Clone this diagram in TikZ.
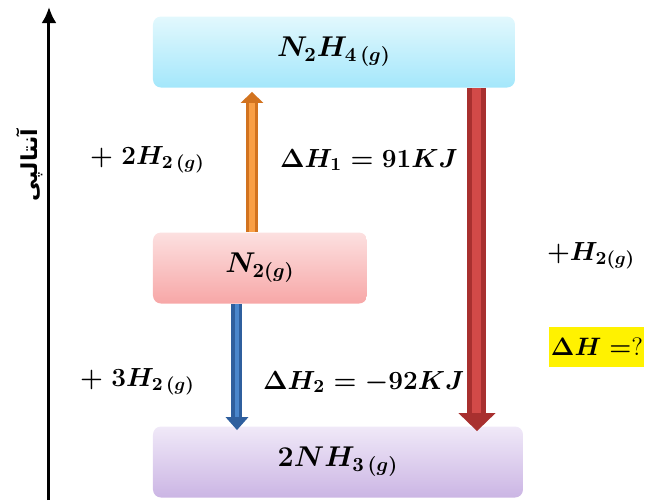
\RequirePackage{fix-cm}
\documentclass[tikz,border=0pt]{standalone}
\usepackage{amsmath}
\usepackage{fontspec}
\newfontfamily\fafont[Script=Arabic]{DejaVu Sans}
\TeXXeTstate=1
\usetikzlibrary{arrows.meta,positioning}
\definecolor{cyTop}{HTML}{E2F8FD}
\definecolor{cyBot}{HTML}{A4E7FB}
\definecolor{pkTop}{HTML}{FCE0E0}
\definecolor{pkBot}{HTML}{F7A7A7}
\definecolor{lvTop}{HTML}{F0E9F8}
\definecolor{lvBot}{HTML}{CBB5E4}
\definecolor{orD}{HTML}{D2731F}
\definecolor{orL}{HTML}{F99F45}
\definecolor{rdD}{HTML}{A8302F}
\definecolor{rdL}{HTML}{D24A48}
\definecolor{blD}{HTML}{2F5F9E}
\definecolor{blL}{HTML}{4A86CC}
\tikzset{
  mth/.style={font=\fontsize{13.1}{16}\selectfont\boldmath},
  lvl/.style={font=\fontsize{14.3}{17}\selectfont\boldmath,rounded corners=4pt,inner sep=0pt,minimum height=35.5pt},
  lvtop/.style={lvl,top color=cyTop,bottom color=cyBot,minimum width=181pt},
  lvmid/.style={lvl,top color=pkTop,bottom color=pkBot,minimum width=107pt},
  lvbot/.style={lvl,top color=lvTop,bottom color=lvBot,minimum width=185pt},
  axs/.style={line width=1.5pt,-{Latex[length=8pt,width=7.5pt]}},
  % each reaction arrow: a dark shaft with a lighter stripe down its middle
  arO/.style={draw=orD,line width=6pt,-{Triangle[length=5.5pt,width=11pt]},shorten >=2pt,
    postaction={draw=orL,line width=2.6pt,-,shorten >=7.5pt}},
  arB/.style={draw=blD,line width=5.5pt,-{Triangle[length=6.5pt,width=11pt]},shorten >=-2pt,
    postaction={draw=blL,line width=2.4pt,-,shorten >=4.5pt}},
  arR/.style={draw=rdD,line width=9.5pt,-{Triangle[length=9pt,width=18pt]},shorten >=-2.5pt,
    postaction={draw=rdL,line width=4.5pt,-,shorten >=6.5pt}},
  ask/.style={font=\fontsize{12.6}{15}\selectfont\boldmath,fill=yellow,inner sep=0pt,
    minimum width=47.5pt,minimum height=20pt},
}
\begin{document}
\begin{tikzpicture}[x=0.5pt,y=-0.5pt]
\useasboundingbox (0,0) rectangle (650,500);
% energy axis
\coordinate (ax0) at (49,500); \coordinate (ax1) at (49,7);
\draw[axs] (ax0) -- (ax1);
\node[font=\fafont\bfseries\fontsize{11}{13}\selectfont,rotate=90] (enth) at (30,165)
  {\beginR آنتالپی\endR};

% levels
\node[lvtop] (hyd) at (334,52) {$N_2H_{4\,(g)}$};
\node[lvmid] (nit) at (260,268) {$N_{2(g)}$};
\node[lvbot] (amm) at (338,462) {$2NH_{3\,(g)}$};

\coordinate (xo) at (252,0); \coordinate (xb) at (237,0); \coordinate (xr) at (477,0);
\draw[arO] (nit.north -| xo) -- (hyd.south -| xo);
\draw[arB] (nit.south -| xb) -- (amm.north -| xb);
\draw[arR] (hyd.south -| xr) -- (amm.north -| xr);

% labels
\node[mth,anchor=west] (h2a) at (83,160) {$+\;2H_{2\,(g)}$};
\node[mth,anchor=west] (dh1) at (273,160) {$\Delta H_1 = 91KJ$};
\node[mth,anchor=west] (h2b) at (73,382) {$+\;3H_{2\,(g)}$};
\node[mth,anchor=west] (dh2) at (256,382) {$\Delta H_2 = -92KJ$};
\node[mth,anchor=west] (h2c) at (540,256) {$+H_{2(g)}$};
\node[ask] (dhq) at (597,347) {$\Delta H =$?};
\end{tikzpicture}
\end{document}
